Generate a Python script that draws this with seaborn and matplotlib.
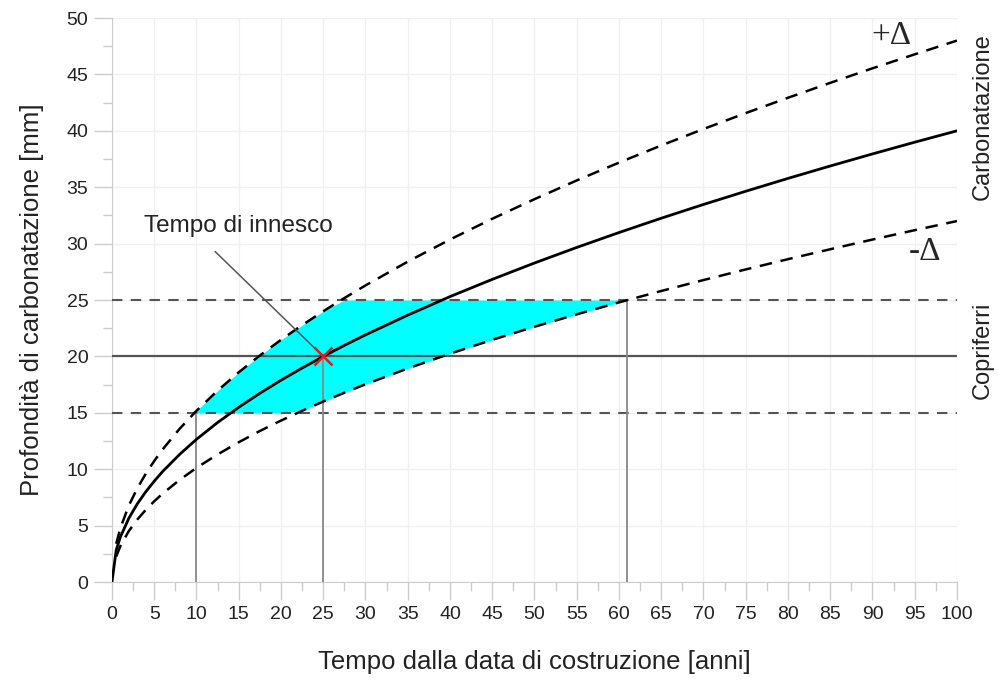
import numpy as np
import pandas as pd
import matplotlib
matplotlib.use('Agg')
import matplotlib.pyplot as plt
from matplotlib.ticker import MultipleLocator
import seaborn as sns

# tempo [anni] e profondita' di carbonatazione [mm]
tempo = [0, 0.5, 1, 2, 3, 4, 5, 6, 8, 10, 12.5, 15, 17.5, 20, 22.5, 25, 27.5, 30,
         35, 40, 45, 50, 55, 60, 65, 70, 75, 80, 85, 90, 95, 100]
carb_media = [0, 2.83, 4.0, 5.66, 6.93, 8.0, 8.94, 9.80, 11.31, 12.65, 14.14, 15.49,
              16.73, 17.89, 18.97, 20.0, 20.98, 21.91, 23.66, 25.30, 26.83, 28.28,
              29.66, 30.98, 32.25, 33.47, 34.64, 35.78, 36.88, 37.95, 38.99, 40.0]
carb_piu = [np.nan, 3.39, 4.8, 6.79, 8.31, 9.6, 10.73, 11.76, 13.58, 15.18, 16.97, 18.59,
            20.08, 21.47, 22.77, 24.0, 25.17, 26.29, 28.40, 30.36, 32.20, 33.94,
            35.60, 37.18, 38.70, 40.16, 41.57, 42.93, 44.25, 45.54, 46.78, 48.0]
carb_meno = [np.nan, 2.26, 3.2, 4.53, 5.54, 6.4, 7.16, 7.84, 9.05, 10.12, 11.31, 12.39,
             13.39, 14.31, 15.18, 16.0, 16.78, 17.53, 18.93, 20.24, 21.47, 22.63,
             23.73, 24.79, 25.80, 26.77, 27.71, 28.62, 29.50, 30.36, 31.19, 32.0]

# copriferri: valore nominale e limiti
copriferro = 20
copriferro_min = 15
copriferro_max = 25

# tempi di innesco (min, medio, max) e relative profondita'
t_innesco = [10, 25, 61]
d_innesco = [15, 20, 25]

df = pd.DataFrame({'tempo': tempo, 'media': carb_media, 'piu': carb_piu, 'meno': carb_meno})

sns.set_style('white')
plt.rcParams['font.family'] = ['Liberation Sans', 'DejaVu Sans']

fig = plt.figure(figsize=(9.98, 6.82), dpi=100)
ax = fig.add_axes([0.1122, 0.1466, 0.8467, 0.827])

# area di incertezza
hi = np.minimum(df['piu'].values, copriferro_max)
lo = np.maximum(df['meno'].values, copriferro_min)
ax.fill_between(df['tempo'], lo, hi, where=np.nan_to_num(hi) >= lo, interpolate=True,
                color='#00ffff', lw=0, zorder=2)

# linee dei copriferri
ax.axhline(copriferro_min, color='#555555', ls=(0, (5, 4)), lw=1.5, zorder=3)
ax.axhline(copriferro_max, color='#555555', ls=(0, (5, 4)), lw=1.5, zorder=3)
ax.axhline(copriferro, color='#555555', lw=1.6, zorder=3)
ax.vlines(t_innesco, 0, d_innesco, color='#888888', lw=1.3, zorder=3)

# curve di carbonatazione
sns.lineplot(data=df, x='tempo', y='media', color='black', lw=2, ax=ax, zorder=4)
sns.lineplot(data=df, x='tempo', y='piu', color='black', lw=1.8, ax=ax, zorder=4,
             linestyle=(0, (5, 3.5)))
sns.lineplot(data=df, x='tempo', y='meno', color='black', lw=1.8, ax=ax, zorder=4,
             linestyle=(0, (5, 3.5)))

ax.plot(t_innesco[1], d_innesco[1], marker='x', color='#d62020', ms=13, mew=1.8, zorder=6)

ax.text(14.9, 31.6, 'Tempo di innesco', ha='center', va='center', fontsize=17.5,
        color='#222222')
ax.annotate('', xy=(t_innesco[1], d_innesco[1]), xytext=(12.2, 29.3),
            arrowprops=dict(arrowstyle='-', color='#555555', lw=1.1, shrinkA=0, shrinkB=0),
            zorder=5)

ax.text(92.2, 48.4, '+\u0394', fontsize=24, ha='center', va='center',
        family=['Liberation Serif', 'DejaVu Serif'])
ax.text(96.2, 29.3, '-\u0394', fontsize=24, ha='center', va='center',
        family=['Liberation Serif', 'DejaVu Serif'])
ax.text(1.031, 0.825, 'Carbonatazione', transform=ax.transAxes, rotation=90,
        ha='center', va='center', fontsize=17, color='#222222')
ax.text(1.031, 0.41, 'Copriferri', transform=ax.transAxes, rotation=90,
        ha='center', va='center', fontsize=17, color='#222222')

ax.set_xlim(0, 100)
ax.set_ylim(0, 50)
ax.xaxis.set_major_locator(MultipleLocator(5))
ax.xaxis.set_minor_locator(MultipleLocator(2.5))
ax.yaxis.set_major_locator(MultipleLocator(5))
ax.yaxis.set_minor_locator(MultipleLocator(2.5))
ax.tick_params(which='major', direction='out', length=13, width=1, color='#cccccc',
               labelsize=14, labelcolor='#222222', bottom=True, left=True, pad=4)
ax.tick_params(which='minor', direction='out', length=6.5, width=1, color='#cccccc',
               bottom=True, left=True)
ax.grid(True, which='major', color='#f0f0f0', lw=1, zorder=0)
ax.set_axisbelow(True)
for s in ['top', 'right']:
    ax.spines[s].set_visible(False)
for s in ['left', 'bottom']:
    ax.spines[s].set_color('#cccccc')

ax.set_xlabel('Tempo dalla data di costruzione [anni]', fontsize=18.5, color='#222222',
              labelpad=20)
ax.set_ylabel('Profondità di carbonatazione [mm]', fontsize=18.5, color='#222222',
              labelpad=16)

fig.savefig('out.png', dpi=100)
